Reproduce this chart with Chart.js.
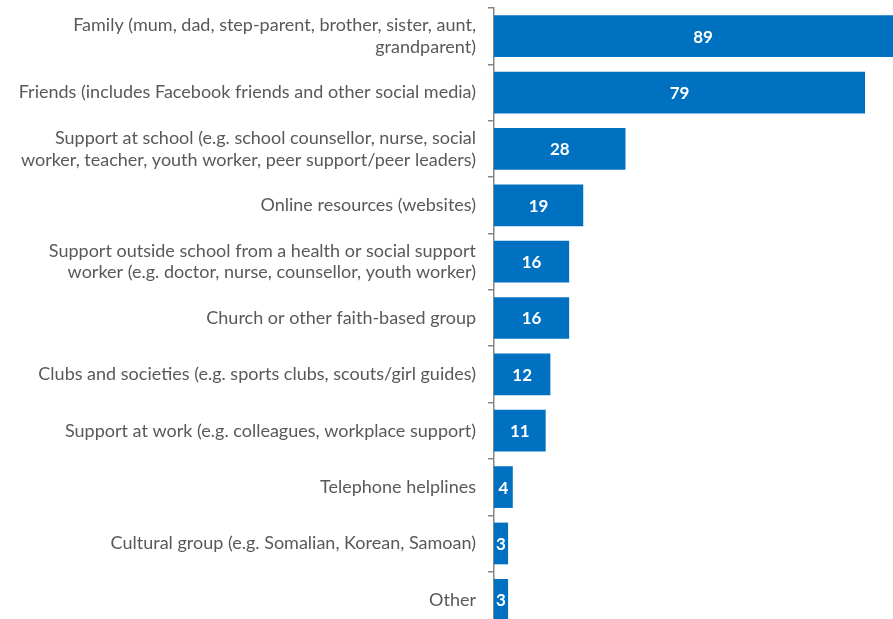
<!DOCTYPE html>
<html><head><meta charset="utf-8">
<script src="https://cdn.jsdelivr.net/npm/chart.js@4/dist/chart.umd.min.js"></script>
<style>html,body{margin:0;padding:0;overflow:hidden;background:#fff;width:893px;height:619px}#wrap{position:absolute;left:0;top:0;width:912px;height:628px}</style>
</head><body><div id="wrap"><canvas id="c" width="912" height="628"></canvas></div>
<script>
const categories = [
  ["Family (mum, dad, step-parent, brother, sister, aunt,", "grandparent)"],
  "Friends (includes Facebook friends and other social media)",
  ["Support at school (e.g. school counsellor, nurse, social", "worker, teacher, youth worker, peer support/peer leaders)"],
  "Online resources (websites)",
  ["Support outside school from a health or social support", "worker (e.g. doctor, nurse, counsellor, youth worker)"],
  "Church or other faith-based group",
  "Clubs and societies (e.g. sports clubs, scouts/girl guides)",
  "Support at work (e.g. colleagues, workplace support)",
  "Telephone helplines",
  "Cultural group (e.g. Somalian, Korean, Samoan)",
  "Other"
];
const values = [89, 79, 28, 19, 16, 16, 12, 11, 4, 3, 3];

const valueLabels = {
  id: 'valueLabels',
  afterDatasetsDraw(chart) {
    const ctx = chart.ctx;
    const meta = chart.getDatasetMeta(0);
    ctx.save();
    ctx.fillStyle = '#ffffff';
    ctx.font = 'bold 17px Lato';
    ctx.textAlign = 'center';
    ctx.textBaseline = 'middle';
    meta.data.forEach((el, i) => {
      ctx.fillText(String(values[i]), (el.x + el.base) / 2, el.y + 1);
    });
    ctx.restore();
  }
};

new Chart(document.getElementById('c'), {
  type: 'bar',
  data: {
    labels: categories,
    datasets: [{
      data: values,
      backgroundColor: '#0070C0',
      borderWidth: 0,
      categoryPercentage: 1,
      barPercentage: 0.74
    }]
  },
  options: {
    indexAxis: 'y',
    responsive: false,
    animation: false,
    layout: { padding: { top: 8, left: 0, right: 0, bottom: 0 } },
    plugins: { legend: { display: false }, tooltip: { enabled: false } },
    scales: {
      x: { display: false, min: 0, max: 89 },
      y: {
        afterFit(scale) { scale.width = 494; scale.paddingTop = 0; scale.paddingBottom = 0; },
        border: { display: true, color: '#868686', width: 1.5 },
        grid: { offset: true, drawOnChartArea: false, drawTicks: true, tickLength: 6, color: '#868686', lineWidth: 1.5 },
        ticks: { color: '#595959', font: { family: 'Lato', size: 18 }, padding: 12, autoSkip: false }
      }
    }
  },
  plugins: [valueLabels]
});
</script></body></html>
